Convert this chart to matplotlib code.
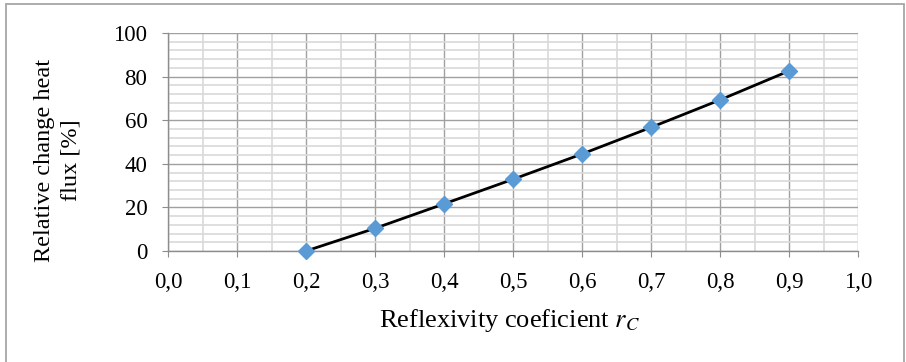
import matplotlib
matplotlib.use("Agg")
import matplotlib.pyplot as plt
from matplotlib.ticker import MultipleLocator, FuncFormatter
from matplotlib.patches import Rectangle

# Reflexivity coefficient vs. relative change of heat flux
reflexivity = [0.2, 0.3, 0.4, 0.5, 0.6, 0.7, 0.8, 0.9]
heat_flux_change = [0.0, 10.4, 21.6, 32.9, 44.5, 56.7, 69.3, 82.6]

plt.rcParams['font.family'] = ['Liberation Serif', 'DejaVu Serif']
plt.rcParams['mathtext.fontset'] = 'stix'

fig = plt.figure(figsize=(9.06, 3.62), dpi=100)
ax = fig.add_axes([168 / 906, 1 - 251 / 362, 690 / 906, 218 / 362])

# Outer chart frame
fig.patches.append(Rectangle((6 / 906, -0.05), 898 / 906, 1 - 3.5 / 362 + 0.05,
                             transform=fig.transFigure, fill=False,
                             edgecolor='#A6A6A6', linewidth=1.3))

ax.set_xlim(0, 1.0)
ax.set_ylim(0, 100)
ax.xaxis.set_major_locator(MultipleLocator(0.1))
ax.xaxis.set_minor_locator(MultipleLocator(0.05))
ax.yaxis.set_major_locator(MultipleLocator(20))
ax.yaxis.set_minor_locator(MultipleLocator(4))
ax.xaxis.set_major_formatter(FuncFormatter(lambda v, p: f"{v:.1f}".replace('.', ',')))
ax.yaxis.set_major_formatter(FuncFormatter(lambda v, p: f"{v:.0f}"))

ax.grid(which='minor', color='#D9D9D9', linewidth=1.2)
ax.grid(which='major', color='#A0A0A0', linewidth=1.0)
ax.set_axisbelow(True)

for side in ['top', 'right']:
    ax.spines[side].set_visible(False)
for side in ['left', 'bottom']:
    ax.spines[side].set_color('#8C8C8C')
    ax.spines[side].set_linewidth(1.0)

ax.tick_params(which='major', direction='out', length=4.3, color='#8C8C8C',
               labelsize=16.5, pad=10.5)
ax.tick_params(which='minor', length=0)

ax.plot(reflexivity, heat_flux_change, color='black', linewidth=2.0,
        marker='D', markersize=8.5, markerfacecolor='#5B9BD5',
        markeredgecolor='#5B9BD5', zorder=3, clip_on=False)

fig.text(509 / 906, 1 - 320 / 362, r"Reflexivity coeficient $r_C$",
         ha='center', va='center', fontsize=19)
fig.text(58 / 906, 1 - 160 / 362, "Relative change heat\nflux [%]",
         ha='center', va='center', rotation=90, fontsize=17.5,
         linespacing=1.35)

fig.savefig("out.png", dpi=100)
